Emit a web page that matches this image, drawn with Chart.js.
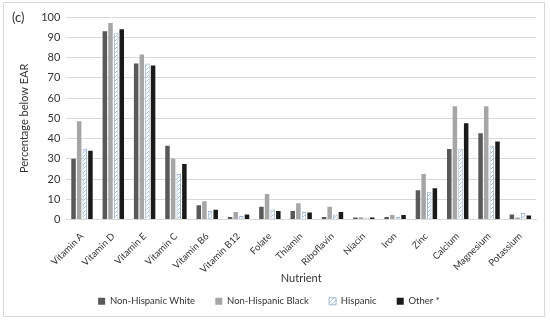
<!DOCTYPE html>
<html>
<head>
<meta charset="utf-8">
<script src="https://cdn.jsdelivr.net/npm/chart.js@4/dist/chart.umd.min.js"></script>
<style>
  html, body { margin: 0; padding: 0; background: #fff; }
  #wrap { position: relative; width: 550px; height: 321px; }
  #frame { position: absolute; left: 3px; top: 2px; width: 542px; height: 315px; border: 1px solid #d9d9d9; box-sizing: border-box; pointer-events: none; }
  #tag { position: absolute; left: 12px; top: 9px; font: 13px Lato, "Open Sans", sans-serif; color: #333; }
</style>
</head>
<body>
<div id="wrap">
  <canvas id="c" width="550" height="321"></canvas>
  <div id="frame"></div>
  <div id="tag">(c)</div>
</div>
<script>
const nutrients = ['Vitamin A', 'Vitamin D', 'Vitamin E', 'Vitamin C', 'Vitamin B6', 'Vitamin B12',
  'Folate', 'Thiamin', 'Riboflavin', 'Niacin', 'Iron', 'Zinc', 'Calcium', 'Magnesium', 'Potassium'];

const nonHispanicWhite = [30, 93, 77, 36.5, 7.1, 1.3, 6.4, 4.3, 1.3, 1, 1.3, 14.5, 34.8, 42.6, 2.5];
const nonHispanicBlack = [48.5, 97, 81.5, 30.2, 9.1, 3.8, 12.6, 8.1, 6.4, 1.2, 2.3, 22.5, 56, 56, 1];
const hispanic = [35, 92, 77, 22.5, 4.3, 1.8, 5, 3.8, 2.5, 1, 1.3, 13.7, 35, 36.5, 3.3];
const other = [34, 94, 76, 27.4, 4.8, 2.5, 4.3, 3.5, 3.8, 1, 2.3, 15.5, 47.5, 38.5, 2];

const seriesNames = ['Non-Hispanic White', 'Non-Hispanic Black', 'Hispanic', 'Other *'];

// hatched fill for the Hispanic bars
function hatch() {
  const p = document.createElement('canvas');
  p.width = 4; p.height = 4;
  const g = p.getContext('2d');
  g.fillStyle = '#ffffff';
  g.fillRect(0, 0, 4, 4);
  g.strokeStyle = '#a9c1dc';
  g.lineWidth = 1;
  g.beginPath();
  g.moveTo(0, 4); g.lineTo(4, 0);
  g.moveTo(-1, 1); g.lineTo(1, -1);
  g.moveTo(3, 5); g.lineTo(5, 3);
  g.stroke();
  return g.createPattern(p, 'repeat');
}

const font = "Lato, 'Open Sans', sans-serif";

new Chart(document.getElementById('c'), {
  type: 'bar',
  data: {
    labels: nutrients,
    datasets: [
      { label: seriesNames[0], data: nonHispanicWhite, backgroundColor: '#595959' },
      { label: seriesNames[1], data: nonHispanicBlack, backgroundColor: '#a6a6a6' },
      { label: seriesNames[2], data: hispanic, backgroundColor: hatch(), borderColor: '#9fb6d3', borderWidth: 1 },
      { label: seriesNames[3], data: other, backgroundColor: '#1a1a1a' }
    ]
  },
  options: {
    responsive: false,
    animation: false,
    categoryPercentage: 0.72,
    barPercentage: 0.8,
    layout: { padding: { left: 14, right: 14, top: 17, bottom: 5 } },
    plugins: {
      legend: {
        position: 'bottom',
        labels: {
          boxWidth: 7, boxHeight: 7, padding: 8, color: '#333', font: { family: font, size: 9.5 },
          // extra trailing spaces give the wider gaps between items
          generateLabels: chart => Chart.defaults.plugins.legend.labels.generateLabels(chart)
            .map(l => ({ ...l, text: l.text + '     ' }))
        }
      },
      tooltip: { enabled: false }
    },
    scales: {
      x: {
        grid: { display: false },
        border: { color: '#d9d9d9' },
        ticks: { minRotation: 45, maxRotation: 45, padding: 3, color: '#333', font: { family: font, size: 9.5 } },
        title: { display: true, text: 'Nutrient', color: '#333', font: { family: font, size: 11 }, padding: { top: 2, bottom: 3 } },
        // the rotated labels need less room than Chart.js reserves
        afterFit: scale => { scale.height -= 8; }
      },
      y: {
        min: 0, max: 100,
        ticks: { stepSize: 10, color: '#333', padding: 6, font: { family: font, size: 11 } },
        grid: { color: '#d9d9d9', drawTicks: false },
        border: { display: false },
        title: { display: true, text: 'Percentage below EAR', color: '#333', font: { family: font, size: 11 } }
      }
    }
  }
});
</script>
</body>
</html>
